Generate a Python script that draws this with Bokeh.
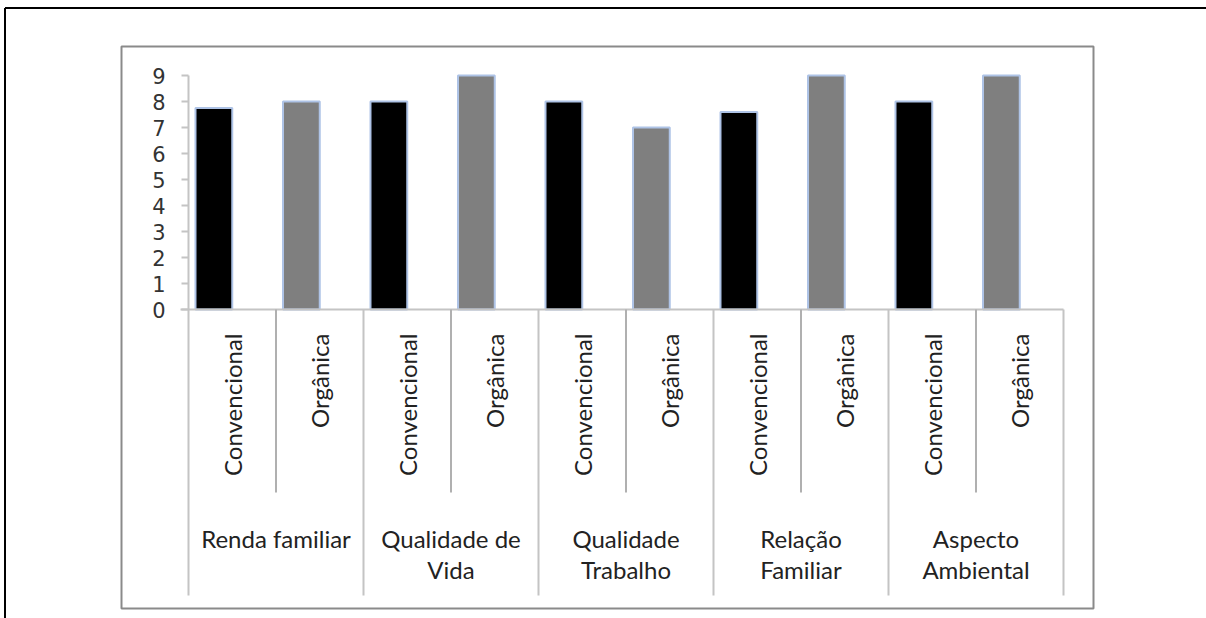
import numpy as np
from bokeh.plotting import figure
from bokeh.models import Range1d, LinearAxis, FixedTicker, ColumnDataSource
from bokeh.core.properties import value
from bokeh.embed import file_html
from bokeh.resources import INLINE

# ---------------- data ----------------
groups = ["Renda familiar", "Qualidade de\nVida", "Qualidade\nTrabalho",
          "Relação\nFamiliar", "Aspecto\nAmbiental"]
systems = ["Convencional", "Orgânica"]
convencional = [7.75, 8.0, 8.0, 7.6, 8.0]
organica = [8.0, 9.0, 7.0, 9.0, 9.0]
y_ticks = [0, 1, 2, 3, 4, 5, 6, 7, 8, 9]
system_colors = ["#000000", "#7f7f7f"]

# ---------------- layout helpers (page pixel geometry) ----------------
W, H = 1206, 618
OX, OY = 0, 0            # page offset of the figure
X0, SLOT = 188.0, 87.5   # page x of first slot edge, px per slot
Y0, UNIT = 309.0, 26.0   # page y of value 0, px per unit


def dx(px):
    return (px - X0) / SLOT


def dy(py):
    return (Y0 - py) / UNIT


p = figure(width=W, height=H,
           x_range=Range1d(dx(OX), dx(OX + W)),
           y_range=Range1d(dy(OY + H), dy(OY)),
           output_backend="svg", toolbar_location=None, min_border=0,
           x_axis_type=None, y_axis_type=None)
p.outline_line_color = None
p.background_fill_color = "white"
p.border_fill_color = "white"

# outer black frame (top & left visible; right/bottom run off the page)
p.segment(x0=[dx(4.5), dx(4.5)], y0=[dy(7.5), dy(7.5)], x1=[dx(W + 5), dx(4.5)], y1=[dy(7.5), dy(H + 5)],
          line_color="#000000", line_width=2)

# inner grey chart box
p.quad(left=dx(121), right=dx(1093), top=dy(46), bottom=dy(608),
       fill_color=None, line_color="#8a8a8a", line_width=2)

# ---------------- bars ----------------
vals, colors, sub_labels = [], [], []
for g in range(len(groups)):
    vals += [convencional[g], organica[g]]
    colors += system_colors
    sub_labels += systems
slot = np.arange(len(vals))
src = ColumnDataSource(dict(x=slot + 0.29, top=vals, color=colors,
                            label=sub_labels, lx=slot + 0.5))
p.vbar(x="x", top="top", bottom=0, width=0.42, fill_color="color",
       line_color="#aec3e6", line_width=2, source=src)

# ---------------- axes ----------------
yax = LinearAxis(fixed_location=0, bounds=(0, 9), ticker=FixedTicker(ticks=y_ticks),
                 major_tick_in=0, major_tick_out=7, minor_tick_line_color=None,
                 axis_line_color="#c4c4c4", axis_line_width=2,
                 major_tick_line_color="#c4c4c4", major_tick_line_width=2,
                 major_label_standoff=16, major_label_text_font="DejaVu Sans",
                 major_label_text_font_size="21px", major_label_text_color="#333333")
p.add_layout(yax, "left")

# x axis line
p.segment(x0=[dx(180)], y0=[0], x1=[len(vals)], y1=[0], line_color="#c4c4c4", line_width=2)

# category dividers
edges = np.arange(len(vals) + 1)
inner = edges[1::2]
outer = edges[0::2]
p.segment(x0=inner, y0=0, x1=inner, y1=dy(492), line_color="#b0b0b0", line_width=2)
p.segment(x0=outer, y0=0, x1=outer, y1=dy(595), line_color="#c4c4c4", line_width=2)

# sub-category labels (vertical)
p.text(x="lx", y=dy(333), text="label", angle=np.pi / 2, text_align="right",
       text_baseline="middle", text_font=value("Lato"), text_font_size="24px",
       text_color="#222222", source=src)

# group labels
p.text(x=[2 * g + 1 for g in range(len(groups))], y=dy(523), text=groups,
       text_align="center", text_baseline="top", text_font=value("Lato"),
       text_font_size="24px", text_line_height=1.1, text_color="#222222")

open("out.html", "w").write(file_html(p, INLINE))
